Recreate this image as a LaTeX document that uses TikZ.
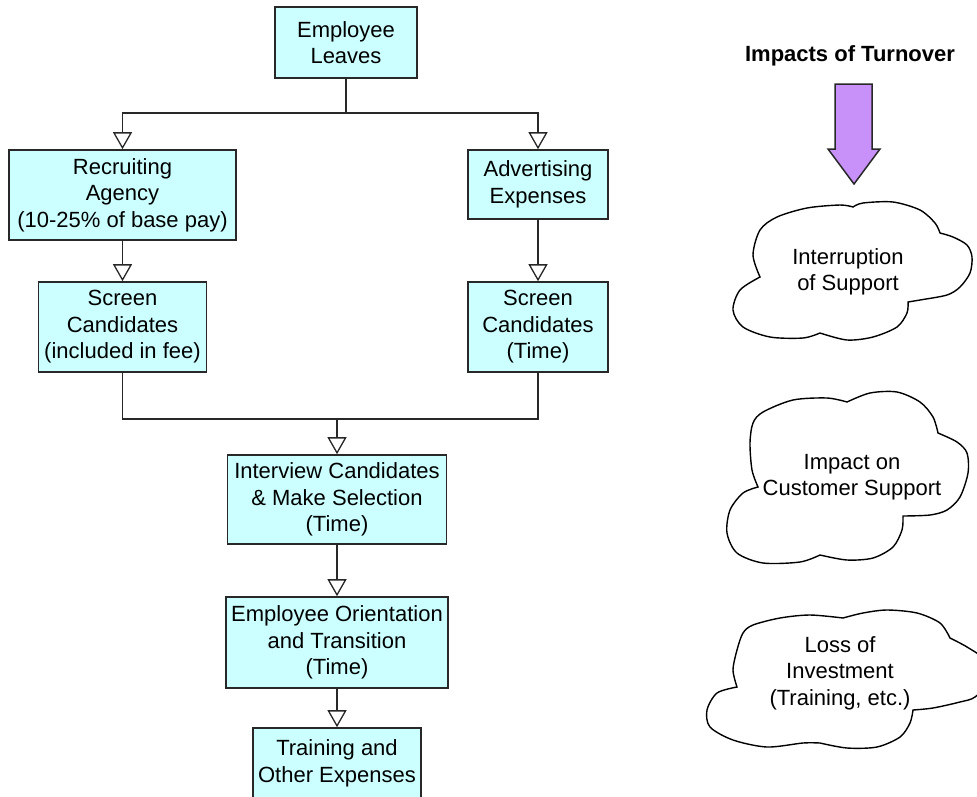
\documentclass[tikz,border=0pt]{standalone}
\usepackage{fontspec}
\setmainfont{Liberation Sans}
\usetikzlibrary{arrows.meta}
\definecolor{boxfill}{RGB}{204,255,255}
\definecolor{purplefill}{RGB}{200,145,250}
\definecolor{linecol}{RGB}{40,40,40}
\begin{document}
\begin{tikzpicture}[x=1pt,y=-1pt,
  flowbox/.style={draw=linecol, line width=1.6pt, fill=boxfill, align=center, inner sep=0pt, font=\fontsize{22}{26.5}\selectfont},
  conn/.style={draw=linecol, line width=1.6pt},
  arr/.style={conn, -{Triangle[width=19pt,length=17pt,fill=white,line width=1.3pt]}},
  cloudline/.style={draw=black, line width=1.4pt, fill=white},
  cloudtext/.style={align=center, inner sep=0pt, font=\fontsize{22}{26.5}\selectfont}]
\clip (0,0) rectangle (977,796);

% flowchart boxes
\node[flowbox, minimum width=142pt, minimum height=71pt] (leaves) at (346,42.5) {Employee\\Leaves};
\node[flowbox, minimum width=227pt, minimum height=90pt] (agency) at (122.5,195) {Recruiting\\Agency\\(10-25\% of base pay)};
\node[flowbox, minimum width=140pt, minimum height=69pt] (adv) at (538,184.5) {Advertising\\Expenses};
\node[flowbox, minimum width=168pt, minimum height=90pt] (screenL) at (122.5,327) {Screen\\Candidates\\(included in fee)};
\node[flowbox, minimum width=140pt, minimum height=90pt] (screenR) at (538,327) {Screen\\Candidates\\(Time)};
\node[flowbox, minimum width=219pt, minimum height=89pt] (interview) at (337,499.5) {Interview Candidates\\\& Make Selection\\(Time)};
\node[flowbox, minimum width=222pt, minimum height=91pt] (orient) at (337,642.5) {Employee Orientation\\and Transition\\(Time)};
\node[flowbox, minimum width=168pt, minimum height=71pt] (training) at (337,763.5) {Training and\\Other Expenses};

% junctions
\coordinate (j1) at (346,113);
\coordinate (j2) at (337,419);

% connectors
\draw[conn] (leaves.south) -- (j1);
\draw[arr] (j1) -| (agency.north);
\draw[arr] (j1) -| (adv.north);
\draw[arr] (agency.south) -- (screenL.north);
\draw[arr] (adv.south) -- (screenR.north);
\draw[conn] (screenL.south) |- (j2);
\draw[conn] (screenR.south) |- (j2);
\draw[arr] (j2) -- (interview.north);
\draw[arr] (interview.south) -- (orient.north);
\draw[arr] (orient.south) -- (training.north);

% right side
\node[font=\bfseries\fontsize{22}{26}\selectfont, inner sep=0pt] (title) at (850,55.5) {Impacts of Turnover};
\draw[line width=1.5pt, draw=linecol, fill=purplefill] (835,84) -- (872,84) -- (872,149) -- (880,149) -- (854,184) -- (828,149) -- (835,149) -- cycle;

% cloud 1
\draw[cloudline]
  plot[smooth] coordinates {(760,277) (753,255) (760,230) (777,217) (807,208) (840,205) (853,207)}
  -- plot[smooth] coordinates {(853,207) (863,203) (893,202) (920,210) (935,223) (940,233)}
  -- plot[smooth] coordinates {(940,233) (953,237) (967,245) (972,257) (970,273) (960,287) (947,295) (920,300) (908,302)}
  -- plot[smooth] coordinates {(908,302) (907,313) (897,327) (873,337) (847,340) (820,333)}
  -- plot[smooth] coordinates {(820,333) (803,338) (770,337) (743,327) (733,310) (740,290) (760,277)}
  -- cycle;
\node[cloudtext] (c1) at (848,272) {Interruption\\of Support};

% cloud 2
\draw[cloudline]
  plot[smooth] coordinates {(758,487) (752,470) (750,443) (753,423) (763,412) (793,400) (827,398) (847,402)}
  -- plot[smooth] coordinates {(847,402) (870,393) (897,392) (920,402) (933,417) (938,433)}
  -- plot[smooth] coordinates {(938,433) (957,442) (967,453) (968,473) (960,497) (947,510) (930,515) (903,516)}
  -- plot[smooth] coordinates {(903,516) (902,530) (893,547) (873,558) (847,560) (820,555)}
  -- plot[smooth] coordinates {(820,555) (800,562) (763,563) (737,553) (727,533) (730,510) (743,493) (758,487)}
  -- cycle;
\node[cloudtext] (c2) at (852,477) {Impact on\\Customer Support};

% cloud 3
\draw[cloudline]
  plot[smooth] coordinates {(737,687) (733,670) (737,650) (743,633) (753,625) (780,618) (810,615) (843,618)}
  -- plot[smooth] coordinates {(843,618) (863,613) (887,610) (917,613) (940,623) (950,638)}
  -- plot[smooth] coordinates {(950,638) (967,647) (985,660) (990,680) (975,697) (960,702) (933,708) (913,710)}
  -- plot[smooth] coordinates {(913,710) (910,723) (900,737) (877,747) (847,748) (820,743)}
  -- plot[smooth] coordinates {(820,743) (803,743) (767,747) (733,740) (710,727) (707,710) (717,693) (737,687)}
  -- cycle;
\node[cloudtext] (c3) at (840,673) {Loss of\\Investment\\(Training, etc.)};
\end{tikzpicture}
\end{document}
